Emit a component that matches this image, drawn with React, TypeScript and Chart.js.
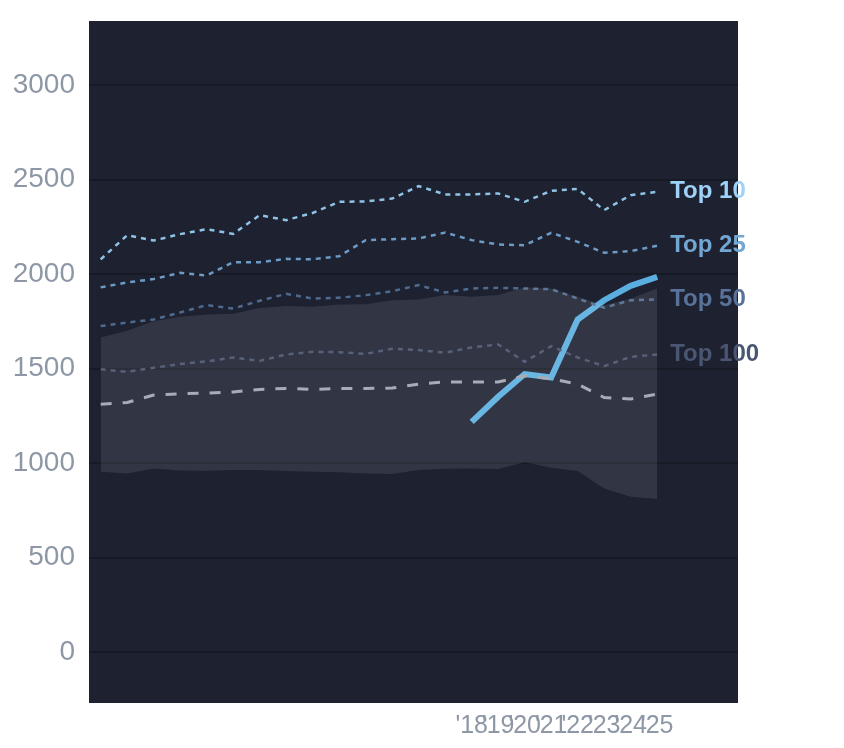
import { useEffect, useRef } from "react";
import { Chart, registerables } from "chart.js";
Chart.register(...registerables);

const years = [2004, 2005, 2006, 2007, 2008, 2009, 2010, 2011, 2012, 2013, 2014, 2015, 2016, 2017, 2018, 2019, 2020, 2021, 2022, 2023, 2024, 2025];
const xTickYears = [2018, 2019, 2020, 2021, 2022, 2023, 2024, 2025];
const yTicks = [0, 500, 1000, 1500, 2000, 2500, 3000];

const top10 = [2078, 2206, 2178, 2212, 2238, 2213, 2312, 2286, 2324, 2383, 2385, 2400, 2466, 2422, 2422, 2427, 2383, 2441, 2451, 2339, 2418, 2436];
const top25 = [1930, 1956, 1974, 2007, 1993, 2063, 2063, 2081, 2079, 2095, 2180, 2185, 2189, 2220, 2180, 2157, 2153, 2219, 2171, 2113, 2122, 2150];
const top50 = [1725, 1744, 1760, 1797, 1836, 1818, 1859, 1896, 1871, 1875, 1889, 1910, 1942, 1903, 1924, 1928, 1924, 1921, 1871, 1822, 1862, 1866];
const top100 = [1497, 1483, 1504, 1525, 1538, 1559, 1541, 1575, 1589, 1587, 1578, 1605, 1598, 1584, 1612, 1628, 1536, 1619, 1559, 1513, 1562, 1575];
const median = [1312, 1321, 1360, 1367, 1370, 1376, 1390, 1395, 1390, 1395, 1395, 1397, 1418, 1430, 1429, 1429, 1462, 1446, 1418, 1347, 1339, 1365];
const bandLow = [954, 945, 971, 961, 959, 963, 963, 958, 954, 951, 945, 942, 963, 970, 971, 968, 1004, 975, 958, 866, 822, 810];
const bandHigh = [1665, 1700, 1751, 1774, 1786, 1791, 1821, 1832, 1827, 1839, 1841, 1862, 1866, 1889, 1880, 1889, 1930, 1924, 1880, 1836, 1871, 1924];
const playerYears = [2018, 2019, 2020, 2021, 2022, 2023, 2024, 2025];
const player = [1218, 1351, 1471, 1453, 1760, 1862, 1938, 1986];

const tierLabels = ["Top 10", "Top 25", "Top 50", "Top 100"];
const tierColors = ["#8fc3e6", "#6c9bc6", "#4f6a8f", "#46516b"];
const tierLabelColors = ["#9fd2f8", "#72a6d3", "#587299", "#4a5672"];

const pts = (xs: number[], ys: number[]) => xs.map((x, i) => ({ x, y: ys[i] }));

const plotBg = {
  id: "plotBg",
  beforeDraw(chart: any) {
    const { ctx, chartArea: a } = chart;
    ctx.save();
    ctx.fillStyle = "#1d2130";
    ctx.fillRect(a.left, a.top, a.right - a.left, a.bottom - a.top);
    ctx.restore();
  },
};

const endLabels = {
  id: "endLabels",
  afterDatasetsDraw(chart: any) {
    const { ctx } = chart;
    ctx.save();
    ctx.font = "bold 24px 'Liberation Sans', Arial, sans-serif";
    ctx.textAlign = "left";
    ctx.textBaseline = "middle";
    tierLabels.forEach((label, i) => {
      const meta = chart.getDatasetMeta(i + 2);
      const last = meta.data[meta.data.length - 1];
      ctx.fillStyle = tierLabelColors[i];
      ctx.fillText(label, last.x + 13, last.y);
    });
    ctx.restore();
  },
};

export default function App() {
  const ref = useRef<HTMLCanvasElement | null>(null);

  useEffect(() => {
    if (!ref.current) return;
    const tiers = [top10, top25, top50, top100];
    const chart = new Chart(ref.current, {
      type: "line",
      data: {
        datasets: [
          { label: "low", data: pts(years, bandLow), borderWidth: 0, pointRadius: 0, fill: false, backgroundColor: "transparent" },
          { label: "high", data: pts(years, bandHigh), borderWidth: 0, pointRadius: 0, fill: "-1", backgroundColor: "rgba(255,255,255,0.095)" },
          ...tiers.map((d, i) => ({
            label: tierLabels[i],
            data: pts(years, d),
            borderColor: tierColors[i],
            borderWidth: 2.5,
            borderDash: [5, 5],
            pointRadius: 0,
            fill: false,
          })),
          { label: "median", data: pts(years, median), borderColor: "#9ea4b0", borderWidth: 3, borderDash: [11, 11], pointRadius: 0, fill: false },
          { label: "player", data: pts(playerYears, player), borderColor: "#5aafe0", borderWidth: 6, pointRadius: 0, fill: false },
        ],
      },
      options: {
        animation: false,
        responsive: true,
        maintainAspectRatio: false,
        layout: { autoPadding: false, padding: { top: 13, right: 98, bottom: 0, left: 0 } },
        plugins: { legend: { display: false }, tooltip: { enabled: false } },
        scales: {
          x: {
            type: "linear",
            min: 2003.56,
            max: 2028.05,
            afterBuildTicks: (axis: any) => { axis.ticks = xTickYears.map((v) => ({ value: v })); },
            afterFit: (axis: any) => {
              axis.height = 37;
              axis.paddingLeft = 0;
              axis.paddingRight = 0;
            },
            grid: { display: false },
            border: { display: false },
            ticks: {
              autoSkip: false,
              maxRotation: 0,
              padding: 0,
              color: "#8e97a6",
              font: { size: 25, family: "'Liberation Sans', Arial, sans-serif" },
              callback: (v: any) => "'" + String(v).slice(2),
            },
          },
          y: {
            min: -270,
            max: 3340,
            afterBuildTicks: (axis: any) => { axis.ticks = yTicks.map((v) => ({ value: v })); },
            afterFit: (axis: any) => {
              axis.width = 81;
              axis.paddingTop = 0;
              axis.paddingBottom = 0;
            },
            grid: { color: "#161a25", lineWidth: 2, drawTicks: false },
            border: { display: false },
            ticks: {
              padding: 14,
              color: "#8e97a6",
              font: { size: 28, family: "'Liberation Sans', Arial, sans-serif" },
              callback: (v: any) => String(v),
            },
          },
        },
      },
      plugins: [plotBg, endLabels],
    });
    return () => chart.destroy();
  }, []);

  return (
    <div style={{ width: 828, height: 732 }}>
      <canvas ref={ref} />
    </div>
  );
}
